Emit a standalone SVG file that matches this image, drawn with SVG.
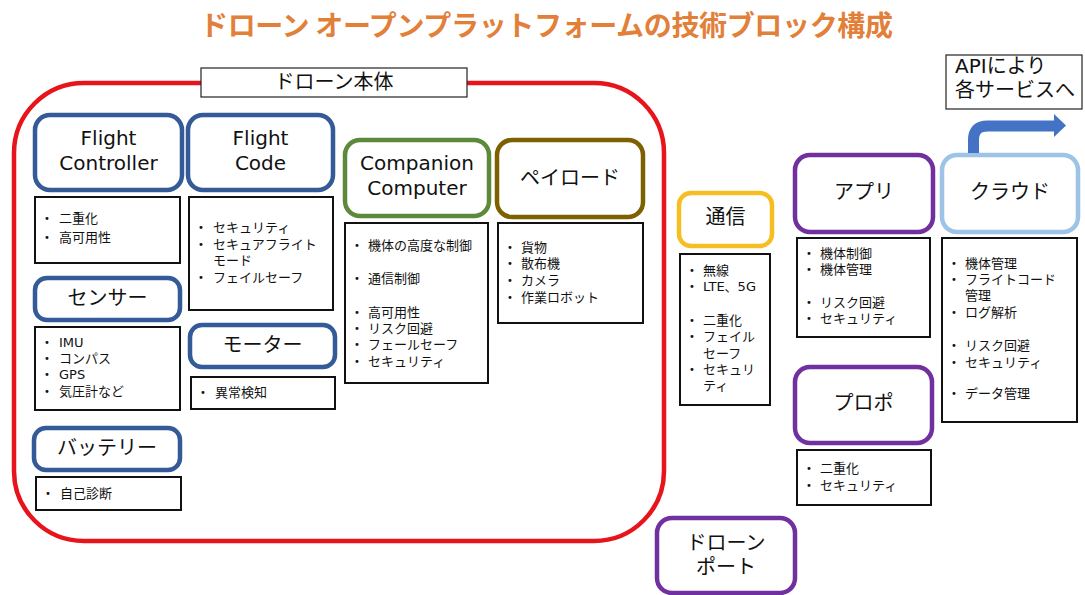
<svg xmlns="http://www.w3.org/2000/svg" width="1085" height="595" viewBox="0 0 1085 595">
<style>
text{font-family:"DejaVu Sans","Noto Sans CJK JP",sans-serif;fill:#111}
.title{font-family:"Noto Sans CJK JP",sans-serif;font-weight:bold;font-size:28px;fill:#E2803A}
.node{fill:#fff;stroke-width:4.5}
.blue{stroke:#345A98}
.green{stroke:#5C8A3A}
.brown{stroke:#7F6000}
.yellow{stroke:#F7BE24}
.purple{stroke:#7030A0}
.lblue{stroke:#9DC3E6}
.list{fill:#fff;stroke:#111;stroke-width:2}
.label{fill:#fff;stroke:#222;stroke-width:1.2}
.t20{font-size:20px;text-anchor:middle}
.li{font-size:13px}
.b{font-size:10px}
</style>
<rect width="1085" height="595" fill="#fff"/>
<text class="title" x="200" y="36" textLength="693">ドローン オープンプラットフォームの技術ブロック構成</text>

<g id="drone-body">
<rect x="14" y="83" width="650" height="458" rx="70" fill="none" stroke="#E8141C" stroke-width="4.5"/>
<rect class="label" x="201" y="68" width="266" height="29"/>
<text class="t20" x="334" y="89">ドローン本体</text>
</g>

<g id="flight-controller">
<rect class="node blue" x="35" y="115" width="147" height="75" rx="15"/>
<text class="t20" x="108.5" y="145">Flight</text>
<text class="t20" x="108.5" y="170">Controller</text>
<rect class="list" x="35" y="197" width="145" height="66"/>
<text class="li"><tspan class="b" x="44" y="222">•</tspan><tspan x="59" y="223">二重化</tspan><tspan class="b" x="44" y="241">•</tspan><tspan x="59" y="242">高可用性</tspan></text>
</g>

<g id="flight-code">
<rect class="node blue" x="188" y="115" width="145" height="75" rx="15"/>
<text class="t20" x="260.5" y="145">Flight</text>
<text class="t20" x="260.5" y="170">Code</text>
<rect class="list" x="189" y="197" width="144" height="113"/>
<text class="li"><tspan class="b" x="198" y="231">•</tspan><tspan x="213" y="232">セキュリティ</tspan><tspan class="b" x="198" y="248">•</tspan><tspan x="213" y="249">セキュアフライト</tspan><tspan x="213" y="265">モード</tspan><tspan class="b" x="198" y="281">•</tspan><tspan x="213" y="282">フェイルセーフ</tspan></text>
</g>

<g id="sensor">
<rect class="node blue" x="35" y="278" width="145" height="42" rx="12"/>
<text class="t20" x="107.5" y="305">センサー</text>
<rect class="list" x="35" y="327" width="145" height="83"/>
<text class="li"><tspan class="b" x="44" y="346">•</tspan><tspan x="59" y="347">IMU</tspan><tspan class="b" x="44" y="362">•</tspan><tspan x="59" y="363">コンパス</tspan><tspan class="b" x="44" y="378">•</tspan><tspan x="59" y="379">GPS</tspan><tspan class="b" x="44" y="395">•</tspan><tspan x="59" y="396">気圧計など</tspan></text>
</g>

<g id="motor">
<rect class="node blue" x="190" y="325" width="145" height="42" rx="12"/>
<text class="t20" x="262.5" y="352">モーター</text>
<rect class="list" x="191" y="377" width="144" height="32"/>
<text class="li"><tspan class="b" x="200" y="396">•</tspan><tspan x="215" y="397">異常検知</tspan></text>
</g>

<g id="battery">
<rect class="node blue" x="34" y="428" width="146" height="42" rx="12"/>
<text class="t20" x="107" y="455">バッテリー</text>
<rect class="list" x="36" y="477" width="145" height="33"/>
<text class="li"><tspan class="b" x="45" y="497">•</tspan><tspan x="60" y="498">自己診断</tspan></text>
</g>

<g id="companion-computer">
<rect class="node green" x="345" y="140" width="144" height="76" rx="15"/>
<text class="t20" x="417" y="170">Companion</text>
<text class="t20" x="417" y="195">Computer</text>
<rect class="list" x="345" y="223" width="143" height="160"/>
<text class="li"><tspan class="b" x="354" y="249">•</tspan><tspan x="368" y="250">機体の高度な制御</tspan><tspan class="b" x="354" y="282">•</tspan><tspan x="368" y="283">通信制御</tspan><tspan class="b" x="354" y="316">•</tspan><tspan x="368" y="317">高可用性</tspan><tspan class="b" x="354" y="332">•</tspan><tspan x="368" y="333">リスク回避</tspan><tspan class="b" x="354" y="348">•</tspan><tspan x="368" y="349">フェールセーフ</tspan><tspan class="b" x="354" y="365">•</tspan><tspan x="368" y="366">セキュリティ</tspan></text>
</g>

<g id="payload">
<rect class="node brown" x="497" y="140" width="146" height="77" rx="15"/>
<text class="t20" x="570" y="185">ペイロード</text>
<rect class="list" x="498" y="223" width="145" height="100"/>
<text class="li"><tspan class="b" x="507" y="251">•</tspan><tspan x="521" y="252">貨物</tspan><tspan class="b" x="507" y="267">•</tspan><tspan x="521" y="268">散布機</tspan><tspan class="b" x="507" y="284">•</tspan><tspan x="521" y="285">カメラ</tspan><tspan class="b" x="507" y="301">•</tspan><tspan x="521" y="302">作業ロボット</tspan></text>
</g>

<g id="communication">
<rect class="node yellow" x="679" y="193" width="93" height="53" rx="12"/>
<text class="t20" x="725.5" y="224">通信</text>
<rect class="list" x="680" y="254" width="90" height="151"/>
<text class="li"><tspan class="b" x="689" y="274">•</tspan><tspan x="703" y="275">無線</tspan><tspan class="b" x="689" y="290">•</tspan><tspan x="703" y="291">LTE、5G</tspan><tspan class="b" x="689" y="324">•</tspan><tspan x="703" y="325">二重化</tspan><tspan class="b" x="689" y="340">•</tspan><tspan x="703" y="341">フェイル</tspan><tspan x="703" y="358">セーフ</tspan><tspan class="b" x="689" y="373">•</tspan><tspan x="703" y="374">セキュリ</tspan><tspan x="703" y="390">ティ</tspan></text>
</g>

<g id="app">
<rect class="node purple" x="795" y="155" width="138" height="77" rx="15"/>
<text class="t20" x="864" y="199">アプリ</text>
<rect class="list" x="797" y="238" width="133" height="99"/>
<text class="li"><tspan class="b" x="806" y="257">•</tspan><tspan x="820" y="258">機体制御</tspan><tspan class="b" x="806" y="273">•</tspan><tspan x="820" y="274">機体管理</tspan><tspan class="b" x="806" y="306">•</tspan><tspan x="820" y="307">リスク回避</tspan><tspan class="b" x="806" y="322">•</tspan><tspan x="820" y="323">セキュリティ</tspan></text>
</g>

<g id="cloud">
<rect class="node lblue" x="942" y="155" width="136" height="77" rx="15"/>
<text class="t20" x="1010" y="199">クラウド</text>
<rect class="list" x="942" y="238" width="135" height="184"/>
<text class="li"><tspan class="b" x="951" y="267">•</tspan><tspan x="965" y="268">機体管理</tspan><tspan class="b" x="951" y="283">•</tspan><tspan x="965" y="284">フライトコード</tspan><tspan x="965" y="300">管理</tspan><tspan class="b" x="951" y="316">•</tspan><tspan x="965" y="317">ログ解析</tspan><tspan class="b" x="951" y="349">•</tspan><tspan x="965" y="350">リスク回避</tspan><tspan class="b" x="951" y="366">•</tspan><tspan x="965" y="367">セキュリティ</tspan><tspan class="b" x="951" y="397">•</tspan><tspan x="965" y="398">データ管理</tspan></text>
</g>

<g id="propo">
<rect class="node purple" x="795" y="367" width="137" height="76" rx="15"/>
<text class="t20" x="863.5" y="410">プロポ</text>
<rect class="list" x="797" y="450" width="134" height="55"/>
<text class="li"><tspan class="b" x="806" y="472">•</tspan><tspan x="820" y="473">二重化</tspan><tspan class="b" x="806" y="489">•</tspan><tspan x="820" y="490">セキュリティ</tspan></text>
</g>

<g id="drone-port">
<rect class="node purple" x="657" y="518" width="138" height="75" rx="15"/>
<text class="t20" x="726" y="550">ドローン</text>
<text class="t20" x="726" y="574">ポート</text>
</g>

<g id="api-note">
<rect class="label" x="946" y="55" width="136" height="54"/>
<text style="font-size:20px"><tspan x="955" y="73">APIにより</tspan><tspan x="955" y="97">各サービスへ</tspan></text>
</g>

<g id="connectors">
<path d="M973.5 153 V140 Q973.5 126 987.5 126 H1055" fill="none" stroke="#4472C4" stroke-width="11"/>
<polygon points="1054,114 1066,125.5 1054,137" fill="#4472C4"/>
</g>
</svg>
